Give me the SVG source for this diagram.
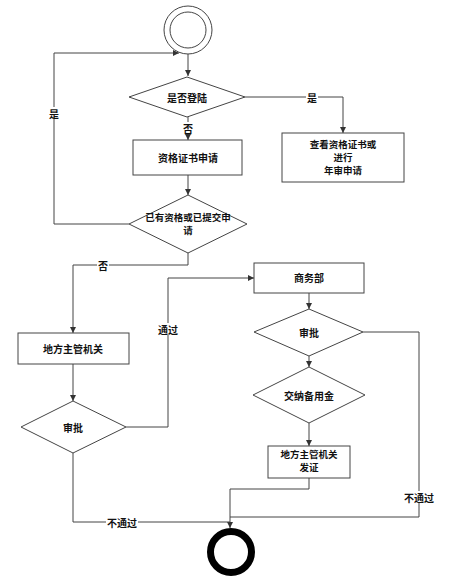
<svg xmlns="http://www.w3.org/2000/svg" width="456" height="586" viewBox="0 0 456 586">
<style>
.shape{fill:#fff;stroke:#444;stroke-width:1}
.line{fill:none;stroke:#444;stroke-width:1}
.t{font-family:"Noto Sans CJK SC","Liberation Sans",sans-serif;font-size:10px;font-weight:bold;fill:#111;text-anchor:middle;dominant-baseline:central}
.s{font-size:9.5px}
.bg{fill:#fff}
</style>
<defs>
<marker id="arr" markerWidth="6" markerHeight="6" refX="6" refY="3" orient="auto" markerUnits="userSpaceOnUse">
<path d="M0,0 L6,3 L0,6 Z" fill="#333"/>
</marker>
</defs>
<rect width="456" height="586" fill="#fff"/>
<g id="connectors">
<path class="line" d="M188,54 V76" marker-end="url(#arr)"/>
<path class="line" d="M188,117 V140" marker-end="url(#arr)"/>
<path class="line" d="M245,97 H343 V133" marker-end="url(#arr)"/>
<path class="line" d="M188,175 V195" marker-end="url(#arr)"/>
<path class="line" d="M129,224 H54 V53 H179" marker-end="url(#arr)"/>
<path class="line" d="M188,253 V265 H73 V333" marker-end="url(#arr)"/>
<path class="line" d="M73,364 V401" marker-end="url(#arr)"/>
<path class="line" d="M126,427 H168 V278 H254" marker-end="url(#arr)"/>
<path class="line" d="M309,293 V309" marker-end="url(#arr)"/>
<path class="line" d="M309,356 V367" marker-end="url(#arr)"/>
<path class="line" d="M309,423 V446" marker-end="url(#arr)"/>
<path class="line" d="M309,478 V489 H230 V528" marker-end="url(#arr)"/>
<path class="line" d="M363,332 H419 V517 H230"/>
<path class="line" d="M73,453 V522 H230"/>
<rect class="bg" x="182" y="122" width="12" height="12"/>
<text class="t" x="188" y="128">否</text>
<rect class="bg" x="306" y="91" width="12" height="12"/>
<text class="t" x="312" y="97">是</text>
<rect class="bg" x="48" y="107" width="12" height="12"/>
<text class="t" x="54" y="113">是</text>
<rect class="bg" x="97" y="259" width="12" height="12"/>
<text class="t" x="103" y="265">否</text>
<rect class="bg" x="157" y="323" width="22" height="12"/>
<text class="t" x="168" y="329">通过</text>
<rect class="bg" x="403" y="491" width="32" height="12"/>
<text class="t" x="419" y="497">不通过</text>
<rect class="bg" x="106" y="516" width="32" height="12"/>
<text class="t" x="122" y="522">不通过</text>
</g>
<g id="start">
<circle class="shape" cx="188" cy="30" r="24"/>
<circle class="shape" cx="188" cy="30" r="18"/>
</g>
<g id="d_login">
<polygon class="shape" points="187,77 245,97 187,117 129,97"/>
<text class="t" x="187" y="97">是否登陆</text>
</g>
<g id="b_apply">
<rect class="shape" x="133" y="140" width="109" height="35"/>
<text class="t" x="188" y="157">资格证书申请</text>
</g>
<g id="b_view">
<rect class="shape" x="282" y="133" width="122" height="49"/>
<text class="t s" x="343" y="144">查看资格证书或</text>
<text class="t s" x="343" y="157">进行</text>
<text class="t s" x="343" y="170">年审申请</text>
</g>
<g id="d_has">
<polygon class="shape" points="188,195 247,224 188,253 129,224"/>
<text class="t s" x="188" y="217">已有资格或已提交申</text>
<text class="t s" x="188" y="230">请</text>
</g>
<g id="b_local">
<rect class="shape" x="18" y="333" width="111" height="31"/>
<text class="t" x="73" y="348">地方主管机关</text>
</g>
<g id="d_review1">
<polygon class="shape" points="73,401 126,427 73,453 21,427"/>
<text class="t" x="73" y="427">审批</text>
</g>
<g id="b_commerce">
<rect class="shape" x="254" y="263" width="110" height="30"/>
<text class="t" x="309" y="277">商务部</text>
</g>
<g id="d_review2">
<polygon class="shape" points="309,309 363,332 309,356 254,332"/>
<text class="t" x="309" y="332">审批</text>
</g>
<g id="d_pay">
<polygon class="shape" points="309,367 365,395 309,423 253,395"/>
<text class="t" x="309" y="395">交纳备用金</text>
</g>
<g id="b_issue">
<rect class="shape" x="268" y="446" width="82" height="32"/>
<text class="t s" x="309" y="454">地方主管机关</text>
<text class="t s" x="309" y="467">发证</text>
</g>
<g id="end">
<circle cx="231" cy="552" r="20.5" fill="#fff" stroke="#000" stroke-width="7"/>
</g>
</svg>
